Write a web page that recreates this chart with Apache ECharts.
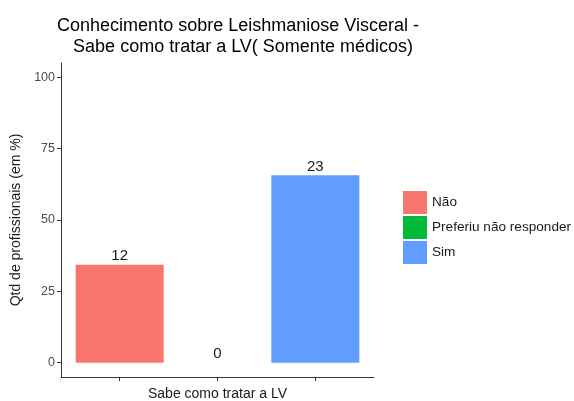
<!DOCTYPE html>
<html>
<head>
<meta charset="UTF-8">
<title>Sabe como tratar a LV</title>
<script src="https://cdn.jsdelivr.net/npm/echarts@6/dist/echarts.min.js"></script>
<style>body{margin:0;background:#fff;}</style>
</head>
<body>
<div id="main" style="width:574px;height:401px;"></div>
<script type="text/javascript">
// dados
var categorias = ['Não', 'Preferiu não responder', 'Sim'];
var posicoes = [1, 2, 3];
var percentuais = [34.3, 0, 65.7];
var contagens = [12, 0, 23];
var cores = ['#F8766D', '#00BA38', '#619CFF'];
var yTicks = [0, 25, 50, 75, 100];

var myChart = echarts.init(document.getElementById('main'));

var series = categorias.map(function (nome, i) {
    return {
        name: nome,
        type: 'bar',
        barWidth: 88,
        barGap: '-100%',
        itemStyle: { color: cores[i] },
        label: {
            show: true,
            position: 'top',
            distance: 1,
            fontFamily: 'Liberation Sans',
            fontSize: 15,
            color: '#1a1a1a',
            formatter: function () { return contagens[i]; }
        },
        data: [[posicoes[i], percentuais[i]]]
    };
});

myChart.setOption({
    animation: false,
    textStyle: { fontFamily: 'Liberation Sans' },
    title: [
        { text: 'Conhecimento sobre Leishmaniose Visceral -', left: 233, top: 12, textAlign: 'center',
          textStyle: { fontSize: 18, fontWeight: 'normal', color: '#000' } },
        { text: 'Sabe como tratar a LV( Somente médicos)', left: 238, top: 33, textAlign: 'center',
          textStyle: { fontSize: 18, fontWeight: 'normal', color: '#000' } }
    ],
    legend: {
        orient: 'vertical',
        left: 398,
        top: 186,
        itemWidth: 24,
        itemHeight: 23,
        itemGap: 2,
        icon: 'rect',
        data: categorias,
        textStyle: { fontSize: 13.6, color: '#1a1a1a' }
    },
    grid: { left: 61, right: 200, top: 63, bottom: 24, outerBoundsMode: 'none', containLabel: false },
    xAxis: {
        type: 'value',
        min: 0.4,
        max: 3.6,
        name: 'Sabe como tratar a LV',
        nameLocation: 'middle',
        nameGap: 10,
        nameTextStyle: { fontSize: 14, color: '#1a1a1a' },
        axisLine: { onZero: false, lineStyle: { color: '#333', width: 1 } },
        axisTick: { show: true, length: 4, customValues: posicoes, lineStyle: { color: '#333' } },
        axisLabel: { show: false },
        splitLine: { show: false }
    },
    yAxis: {
        type: 'value',
        min: -5,
        max: 105,
        name: 'Qtd de profissionais (em %)',
        nameLocation: 'middle',
        nameGap: 35,
        nameTextStyle: { fontSize: 14, color: '#1a1a1a' },
        axisLine: { show: true, onZero: false, lineStyle: { color: '#333', width: 1 } },
        axisTick: { show: true, length: 4, customValues: yTicks, lineStyle: { color: '#333' } },
        axisLabel: { customValues: yTicks, fontSize: 12.5, color: '#4d4d4d', margin: 6 },
        splitLine: { show: false }
    },
    series: series
});
</script>
</body>
</html>
